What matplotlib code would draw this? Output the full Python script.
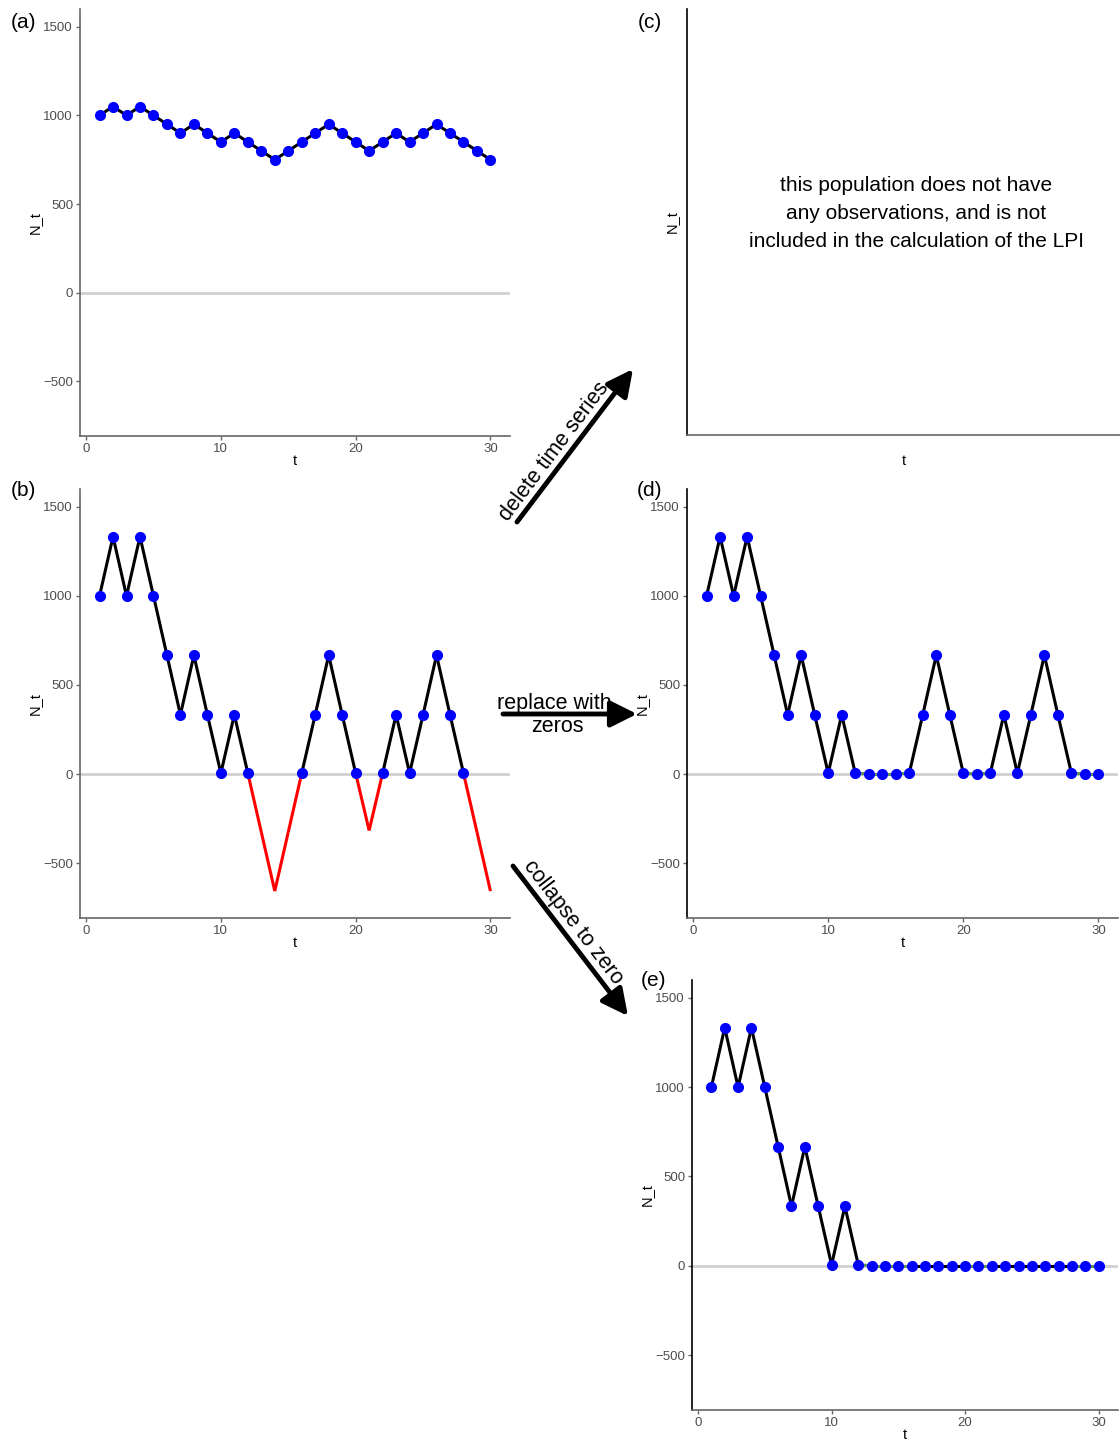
import numpy as np
import matplotlib
matplotlib.use("Agg")
import matplotlib.pyplot as plt

plt.rcParams['font.family'] = ['Liberation Sans', 'DejaVu Sans']

# time steps and population sizes
t = np.arange(1, 31)
n_a = [1000, 1050, 1000, 1050, 1000, 950, 900, 950, 900, 850,
       900, 850, 800, 750, 800, 850, 900, 950, 900, 850,
       800, 850, 900, 850, 900, 950, 900, 850, 800, 750]
n_b = [1000, 1333, 1000, 1333, 1000, 667, 333, 667, 333, 5,
       333, 5, -326, -657, -326, 5, 333, 667, 333, 5,
       -317, 5, 333, 5, 333, 667, 333, 5, -326, -657]
n_d = [1000, 1333, 1000, 1333, 1000, 667, 333, 667, 333, 5,
       333, 5, 0, 0, 0, 5, 333, 667, 333, 5,
       0, 5, 333, 5, 333, 667, 333, 5, 0, 0]
n_e = [1000, 1333, 1000, 1333, 1000, 667, 333, 667, 333, 5,
       333, 5, 0, 0, 0, 0, 0, 0, 0, 0,
       0, 0, 0, 0, 0, 0, 0, 0, 0, 0]
y_ticks = [-500, 0, 500, 1000, 1500]
x_ticks = [0, 10, 20, 30]

W, H = 1120, 1441
fig = plt.figure(figsize=(W / 100, H / 100), dpi=100)

TICK_GREY = '#4d4d4d'
GREEN = '#5b9160'


def add_ax(left, top, right, bottom):
    """axes from pixel box"""
    return fig.add_axes([left / W, 1 - bottom / H, (right - left) / W, (bottom - top) / H])


def style(ax, left_col, ticks=True):
    """ggplot classic-ish look"""
    for s in ['top', 'right']:
        ax.spines[s].set_visible(False)
    ax.spines['left'].set_color(left_col)
    ax.spines['bottom'].set_color('#666666')
    ax.spines['left'].set_linewidth(1.2)
    ax.spines['bottom'].set_linewidth(1.2)
    ax.set_xlim(-0.45, 31.45)
    ax.set_ylim(-808, 1600)
    if ticks:
        ax.set_xticks(x_ticks)
        ax.set_yticks(y_ticks)
        ax.set_yticklabels(['\u2212500', '0', '500', '1000', '1500'])
        ax.tick_params(colors='#666666', labelcolor=TICK_GREY, labelsize=9.5,
                       length=3, width=1, pad=2)
        ax.set_ylabel('N_t', fontsize=10.5, labelpad=1)
        ax.set_xlabel('t', fontsize=10.5, labelpad=-1)
    else:
        ax.set_xticks([])
        ax.set_yticks([])


def draw_series(ax, vals, seg_cols, pts_mask):
    ax.axhline(0, color='#d0d0d0', lw=2, zorder=1)
    vals = np.array(vals)
    for i in range(len(t) - 1):
        ax.plot(t[i:i + 2], vals[i:i + 2], color=seg_cols[i], lw=2.2,
                solid_capstyle='butt', zorder=2)
    ax.plot(t[pts_mask], vals[pts_mask], 'o', color='blue', ms=7, zorder=3)


vb = np.array(n_b)
was_neg = [(vb[i] < 0) or (vb[i + 1] < 0) for i in range(len(t) - 1)]
cols_a = ['black'] * (len(t) - 1)
cols_b = ['red' if w else 'black' for w in was_neg]
cols_de = [GREEN if w else 'black' for w in was_neg]

# (a)
ax_a = add_ax(80, 9, 510, 436)
style(ax_a, '#666666')
draw_series(ax_a, n_a, cols_a, np.ones(30, bool))

# (b)
ax_b = add_ax(80, 489, 510, 918)
style(ax_b, '#666666')
draw_series(ax_b, n_b, cols_b, vb >= 0)

# (c)
ax_c = add_ax(687, 9, 1120, 435)
style(ax_c, 'black', ticks=False)
ax_c.set_xlabel('t', fontsize=10.5, labelpad=14)
ax_c.set_ylabel('N_t', fontsize=10.5, labelpad=6)
ax_c.text(0.53, 0.52, 'this population does not have\nany observations, and is not\n'
          'included in the calculation of the LPI',
          transform=ax_c.transAxes, ha='center', va='center', fontsize=15,
          linespacing=1.6)

# (d)
ax_d = add_ax(687, 489, 1118, 918)
style(ax_d, 'black')
draw_series(ax_d, n_d, cols_de, np.ones(30, bool))

# (e)
ax_e = add_ax(692, 980, 1118, 1410)
style(ax_e, 'black')
draw_series(ax_e, n_e, cols_de, np.ones(30, bool))

# panel letters
for lab, (px, py) in zip(['(a)', '(b)', '(c)', '(d)', '(e)'],
                         [(23, 22), (23, 490), (650, 22), (649, 490), (654, 980)]):
    fig.text(px / W, 1 - py / H, lab, fontsize=15, ha='center', va='center')


def fig_arrow(x0, y0, x1, y1):
    fig.add_artist(matplotlib.patches.FancyArrowPatch(
        (x0 / W, 1 - y0 / H), (x1 / W, 1 - y1 / H), transform=fig.transFigure,
        arrowstyle='-|>,head_length=1.6,head_width=0.8', mutation_scale=10,
        color='black', lw=3.5, shrinkA=0, shrinkB=0))


fig_arrow(517, 522, 633, 369)
fig.text(554 / W, 1 - 452 / H, 'delete time series', rotation=53, fontsize=15.5,
         ha='center', va='center', rotation_mode='anchor')

fig_arrow(503, 714, 637, 714)
fig.text(554 / W, 1 - 704 / H, 'replace with', fontsize=15.5, ha='center', va='center')
fig.text(557 / W, 1 - 727 / H, 'zeros', fontsize=15.5, ha='center', va='center')

fig_arrow(513, 866, 628, 1016)
fig.text(573 / W, 1 - 922 / H, 'collapse to zero', rotation=-52.5, fontsize=15.5,
         ha='center', va='center', rotation_mode='anchor')

fig.savefig('out.png', dpi=100)
